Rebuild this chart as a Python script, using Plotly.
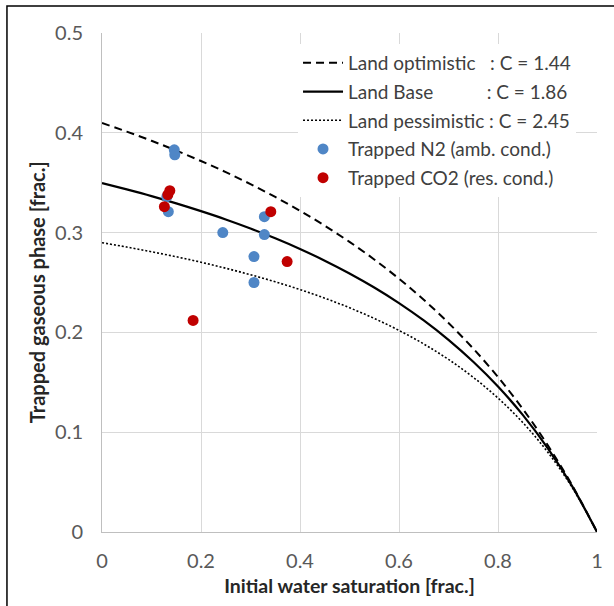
import plotly.graph_objects as go

# Initial water saturation grid for the Land trapping curves
sw_grid = [0.00, 0.05, 0.10, 0.15, 0.20, 0.25, 0.30, 0.35, 0.40, 0.45, 0.50,
           0.55, 0.60, 0.65, 0.70, 0.75, 0.80, 0.85, 0.90, 0.95, 1.00]

# Trapped gas saturation, Land model with C = 1.44 / 1.86 / 2.45
land_optimistic = [0.4098, 0.4012, 0.3920, 0.3822, 0.3717, 0.3606, 0.3486,
                   0.3357, 0.3219, 0.3069, 0.2907, 0.2731, 0.2538, 0.2327,
                   0.2095, 0.1838, 0.1553, 0.1234, 0.0874, 0.0466, 0.0]
land_base = [0.3497, 0.3433, 0.3366, 0.3293, 0.3215, 0.3132, 0.3041, 0.2943,
             0.2836, 0.2719, 0.2591, 0.2450, 0.2294, 0.2120, 0.1926, 0.1706,
             0.1458, 0.1173, 0.0843, 0.0457, 0.0]
land_pessimistic = [0.2899, 0.2855, 0.2808, 0.2758, 0.2703, 0.2643, 0.2578,
                    0.2507, 0.2429, 0.2343, 0.2247, 0.2140, 0.2020, 0.1884,
                    0.1729, 0.1550, 0.1342, 0.1097, 0.0803, 0.0445, 0.0]

# Measured trapped saturations
n2_swi = [0.146, 0.147, 0.131, 0.134, 0.244, 0.328, 0.328, 0.307, 0.307]
n2_sgr = [0.383, 0.378, 0.336, 0.321, 0.300, 0.316, 0.298, 0.276, 0.250]
co2_swi = [0.133, 0.137, 0.126, 0.341, 0.374, 0.184]
co2_sgr = [0.338, 0.342, 0.326, 0.321, 0.271, 0.212]

NB = "\u00a0"
legend_names = [
    "Land optimistic" + NB * 3 + ": C = 1.44",
    "Land Base" + NB * 11 + ": C = 1.86",
    "Land pessimistic : C = 2.45",
    "Trapped N2 (amb. cond.)",
    "Trapped CO2 (res. cond.)",
]

FONT = "Lato"
fig = go.Figure()

fig.add_trace(go.Scatter(x=sw_grid, y=land_optimistic, mode="lines",
                         name=legend_names[0], legendgroup="g1",
                         line_shape="spline",
                         line=dict(color="black", width=2, dash="8px,5px")))
fig.add_trace(go.Scatter(x=sw_grid, y=land_base, mode="lines",
                         name=legend_names[1], legendgroup="g2",
                         line_shape="spline",
                         line=dict(color="black", width=2.2)))
fig.add_trace(go.Scatter(x=sw_grid, y=land_pessimistic, mode="lines",
                         name=legend_names[2], legendgroup="g3",
                         line_shape="spline",
                         line=dict(color="black", width=1.6, dash="2px,2px")))
fig.add_trace(go.Scatter(x=n2_swi, y=n2_sgr, mode="markers",
                         name=legend_names[3], legendgroup="g4",
                         marker=dict(color="#4f86c6", size=11)))
fig.add_trace(go.Scatter(x=co2_swi, y=co2_sgr, mode="markers",
                         name=legend_names[4], legendgroup="g5",
                         marker=dict(color="#c00000", size=11)))

fig.update_layout(
    width=614, height=606,
    margin=dict(l=102, r=17, t=33, b=74),
    paper_bgcolor="white", plot_bgcolor="white",
    font=dict(family=FONT, size=19, color="#595959"),
    showlegend=True,
    legend=dict(x=0.396, y=0.978, xanchor="left", yanchor="top",
                bgcolor="white", borderwidth=0,
                font=dict(family=FONT, size=19, color="#404040"),
                tracegroupgap=1, itemwidth=40),
    xaxis=dict(range=[0, 1], dtick=0.2, tick0=0,
               showgrid=True, gridcolor="#d9d9d9", gridwidth=1,
               showline=True, linecolor="#bfbfbf", linewidth=1, mirror=False,
               zeroline=False, ticks="", ticklabelstandoff=11,
               tickfont=dict(size=20, color="#595959"),
               title=dict(text="<b>Initial water saturation [frac.]</b>",
                          font=dict(size=19.5, color="#262626"), standoff=8)),
    yaxis=dict(range=[0, 0.5], dtick=0.1, tick0=0,
               showgrid=True, gridcolor="#d9d9d9", gridwidth=1,
               showline=True, linecolor="#bfbfbf", linewidth=1,
               zeroline=False, ticks="", ticklabelstandoff=14,
               tickfont=dict(size=20, color="#595959")),
)

# Vertical axis title
fig.add_annotation(text="<b>Trapped gaseous phase [frac.]</b>",
                   xref="paper", yref="paper", x=-0.131, y=0.481,
                   xanchor="center", yanchor="middle", textangle=-90,
                   showarrow=False,
                   font=dict(family=FONT, size=20, color="#262626"))

# Outer chart frame
fig.add_shape(type="rect", xref="paper", yref="paper",
              x0=-0.192, x1=1.2, y0=-0.3, y1=1.054,
              line=dict(color="black", width=1.5), layer="below")

fig.write_html("out.html")
